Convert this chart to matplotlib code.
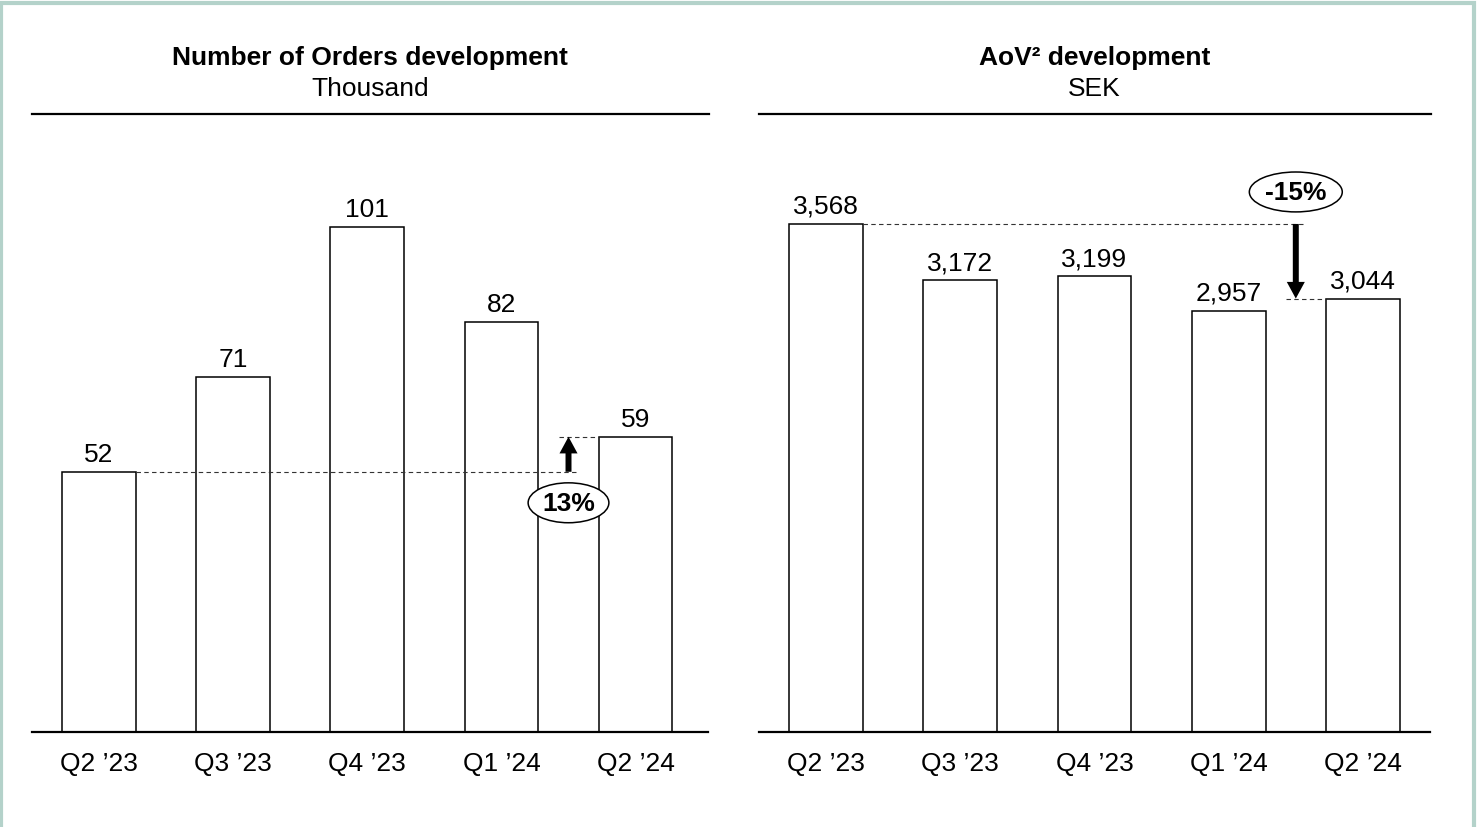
import matplotlib
matplotlib.use("Agg")
import matplotlib.pyplot as plt
from matplotlib.lines import Line2D
from matplotlib.patches import Rectangle

plt.rcParams["font.family"] = ["Liberation Sans", "DejaVu Sans"]

# Data
quarters = ["Q2 \u201923", "Q3 \u201923", "Q4 \u201923", "Q1 \u201924", "Q2 \u201924"]
orders = [52, 71, 101, 82, 59]          # thousand
aov = [3568, 3172, 3199, 2957, 3044]     # SEK
orders_change = "13%"
aov_change = "-15%"

W, H = 1478, 828
DPI = 100
FS = 19
fig = plt.figure(figsize=(W / DPI, H / DPI), dpi=DPI)
fig.patch.set_facecolor("white")

# Light frame around the figure
fig.add_artist(Rectangle((1 / W, -0.01), 1473 / W, 1 - 4 / H + 0.01,
                         transform=fig.transFigure, fill=False,
                         edgecolor="#b4d2ca", linewidth=3.0))

base_px = 733
top_px = 125
ax_h = (base_px - top_px) / H


def px_x(x):
    return x / W


def px_y(y):
    return 1 - y / H


def panel(left_px, right_px, values, ylim_top, xmax, title, subtitle, fmt,
          change_label, label_above):
    ax = fig.add_axes([px_x(left_px), px_y(base_px), px_x(right_px - left_px), ax_h])
    x = list(range(len(values)))
    ax.bar(x, values, width=0.55, color="white", edgecolor="black", linewidth=1.1, zorder=2)
    ax.set_xlim(-0.5, xmax)
    ax.set_ylim(0, ylim_top)
    for s in ("top", "left", "right"):
        ax.spines[s].set_visible(False)
    ax.spines["bottom"].set_linewidth(1.6)
    ax.set_yticks([])
    ax.set_xticks(x)
    ax.set_xticklabels(quarters, fontsize=FS)
    ax.tick_params(axis="x", length=0, pad=14)

    for xi, v in zip(x, values):
        ax.annotate(fmt(v), xy=(xi, v), xytext=(0, 11), textcoords="offset pixels",
                    ha="center", va="baseline", fontsize=FS)

    # Comparison: first vs last quarter
    v0, v1 = values[0], values[-1]
    ax_x = 3.5
    dash = dict(color="#333333", linewidth=0.8, dashes=(4, 3), zorder=3)
    ax.plot([0.275, 3.57], [v0, v0], **dash)
    ax.plot([3.43, 3.725], [v1, v1], **dash)
    ax.annotate("", xy=(ax_x, v1), xytext=(ax_x, v0),
                arrowprops=dict(width=4.3, headwidth=13, headlength=12,
                                shrink=0, facecolor="black", edgecolor="black",
                                linewidth=0), zorder=4)
    off = 32 if label_above else -31
    ax.annotate(change_label, xy=(ax_x, v0), xytext=(0, off), textcoords="offset pixels",
                ha="center", va="center", fontsize=FS, fontweight="bold",
                bbox=dict(boxstyle="ellipse,pad=0.08", facecolor="white",
                          edgecolor="black", linewidth=1.1), zorder=5)

    # Header
    cx = (left_px + right_px) / 2
    fig.text(px_x(cx), px_y(58), title, ha="center", va="center",
             fontsize=FS, fontweight="bold")
    fig.text(px_x(cx), px_y(89), subtitle, ha="center", va="center", fontsize=FS)
    fig.add_artist(Line2D([px_x(left_px), px_x(right_px + 1)], [px_y(115), px_y(115)],
                          transform=fig.transFigure, color="black", linewidth=1.6))
    return ax


panel(32, 708, orders, 121.5, 4.54, "Number of Orders development", "Thousand",
      lambda v: f"{v:,}", orders_change, False)
panel(759, 1430, aov, 4270, 4.5, "AoV\u00b2 development", "SEK",
      lambda v: f"{v:,}", aov_change, True)

fig.savefig("out.png", dpi=DPI)
